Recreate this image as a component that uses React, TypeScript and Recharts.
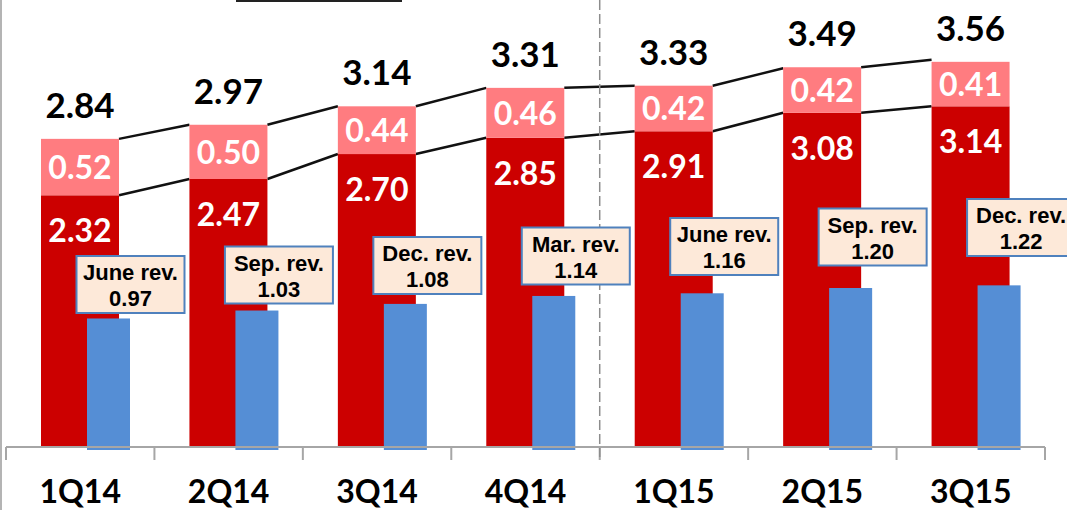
import { BarChart, Bar, XAxis, YAxis, LabelList } from "recharts";

const quarters = ["1Q14", "2Q14", "3Q14", "4Q14", "1Q15", "2Q15", "3Q15"];
const baseValues = [2.32, 2.47, 2.7, 2.85, 2.91, 3.08, 3.14];
const extraValues = [0.52, 0.5, 0.44, 0.46, 0.42, 0.42, 0.41];
const totals = [2.84, 2.97, 3.14, 3.31, 3.33, 3.49, 3.56];
const revValues = [0.97, 1.03, 1.08, 1.14, 1.16, 1.2, 1.22];
const revNames = ["June rev.", "Sep. rev.", "Dec. rev.", "Mar. rev.", "June rev.", "Sep. rev.", "Dec. rev."];

const data = quarters.map((q, i) => ({
  q,
  base: baseValues[i],
  extra: extraValues[i],
  total: totals[i],
  rev: revValues[i],
  revName: revNames[i],
}));

const W = 1067;
const H = 510;
const M = { top: 13, right: 22, bottom: 0, left: 6 };
const AXIS_H = 63;
const plotBottom = H - AXIS_H;
const plotH = plotBottom - M.top;
const step = (W - M.left - M.right) / quarters.length;
const Y_MAX = 4;
const ppu = plotH / Y_MAX;

const FONT = "Lato, 'Noto Sans', sans-serif";
const BOX_FONT = "'Liberation Sans', Arial, sans-serif";
const BLUE_SHIFT = 28;

// red bar + series line to next bar
const seriesShape = (values: number[], fill: string) => (props: any) => {
  const { x, y, width, height, index } = props;
  const next = index + 1 < values.length ? values[index + 1] : null;
  return (
    <g>
      <rect x={x} y={y} width={width} height={height} fill={fill} />
      {next !== null && (
        <line
          x1={x + width}
          y1={y}
          x2={x + step}
          y2={y - (next - values[index]) * ppu}
          stroke="#111"
          strokeWidth={2.5}
        />
      )}
    </g>
  );
};

const blueShape = (props: any) => {
  const { x, y, width, height } = props;
  return <rect x={x + BLUE_SHIFT} y={y} width={width} height={height + 3} fill="#558ed5" />;
};

const totalLabel = (props: any) => {
  const { x, y, width, index } = props;
  return (
    <text x={x + width / 2} y={y - 21} textAnchor="middle" fontFamily={FONT} fontWeight={700} fontSize={35} fill="#000">
      {totals[index].toFixed(2)}
    </text>
  );
};

const extraLabel = (props: any) => {
  const { x, y, width, height, value } = props;
  return (
    <text x={x + width / 2} y={y + height / 2 + 12} textAnchor="middle" fontFamily={FONT} fontWeight={700} fontSize={32} fill="#fff">
      {Number(value).toFixed(2)}
    </text>
  );
};

const baseLabel = (props: any) => {
  const { x, y, width, value } = props;
  return (
    <text x={x + width / 2} y={y + 47} textAnchor="middle" fontFamily={FONT} fontWeight={700} fontSize={32} fill="#fff">
      {Number(value).toFixed(2)}
    </text>
  );
};

const revLabel = (props: any) => {
  const { x, width, index } = props;
  const cx = x + BLUE_SHIFT + width / 2 + 22;
  const bottom = plotBottom - 134 - 9.5 * index;
  const bw = 108;
  const bh = 57;
  const top = bottom - bh;
  return (
    <g>
      <rect x={cx - bw / 2} y={top} width={bw} height={bh} fill="#fde9d9" stroke="#4f81bd" strokeWidth={2} />
      <text x={cx} y={top + 24} textAnchor="middle" fontFamily={BOX_FONT} fontWeight={700} fontSize={22} fill="#000">
        {revNames[index]}
      </text>
      <text x={cx} y={top + 50} textAnchor="middle" fontFamily={BOX_FONT} fontWeight={700} fontSize={22} fill="#000">
        {revValues[index].toFixed(2)}
      </text>
    </g>
  );
};

const QuarterTick = (props: any) => {
  const { payload, index } = props;
  const cx = payload.coordinate;
  const left = cx - step / 2;
  return (
    <g>
      <line x1={left} y1={plotBottom} x2={left} y2={plotBottom + 13} stroke="#a6a6a6" strokeWidth={2} />
      {index === quarters.length - 1 && (
        <line x1={left + step} y1={plotBottom} x2={left + step} y2={plotBottom + 13} stroke="#a6a6a6" strokeWidth={2} />
      )}
      {index === 4 && (
        <line x1={left} y1={0} x2={left} y2={plotBottom + 10} stroke="#8c8c8c" strokeWidth={1.5} strokeDasharray="10 4" />
      )}
      <text x={cx} y={503} textAnchor="middle" fontFamily={FONT} fontWeight={700} fontSize={32} fill="#000">
        {payload.value}
      </text>
    </g>
  );
};

export default function App() {
  return (
    <div style={{ position: "absolute", left: 0, top: 0, width: W, height: H, background: "#fff", overflow: "hidden" }}>
      <div style={{ position: "absolute", left: 0, top: 0, width: 2, height: H, background: "#b4b4b4" }} />
      <div style={{ position: "absolute", left: 236, top: 0, width: 166, height: 2, background: "#222" }} />
      <BarChart width={W} height={H} data={data} margin={M} barCategoryGap={0}>
        <XAxis
          dataKey="q"
          xAxisId="main"
          height={AXIS_H}
          interval={0}
          tickLine={false}
          axisLine={{ stroke: "#a6a6a6", strokeWidth: 2 }}
          tick={<QuarterTick />}
        />
        <XAxis dataKey="q" xAxisId="rev" hide />
        <YAxis yAxisId="main" hide domain={[0, Y_MAX]} />
        <YAxis yAxisId="rev" hide domain={[0, plotH / 132.5]} />
        <Bar
          dataKey="base"
          stackId="s"
          xAxisId="main"
          yAxisId="main"
          barSize={78}
          fill="#cc0000"
          shape={seriesShape(baseValues, "#cc0000")}
          isAnimationActive={false}
        >
          <LabelList dataKey="base" content={baseLabel} />
        </Bar>
        <Bar
          dataKey="extra"
          stackId="s"
          xAxisId="main"
          yAxisId="main"
          barSize={78}
          fill="#ff7c80"
          shape={seriesShape(totals, "#ff7c80")}
          isAnimationActive={false}
        >
          <LabelList dataKey="extra" content={extraLabel} />
          <LabelList dataKey="total" content={totalLabel} />
        </Bar>
        <Bar
          dataKey="rev"
          xAxisId="rev"
          yAxisId="rev"
          barSize={43}
          fill="#558ed5"
          shape={blueShape}
          isAnimationActive={false}
        >
          <LabelList dataKey="rev" content={revLabel} />
        </Bar>
      </BarChart>
    </div>
  );
}
